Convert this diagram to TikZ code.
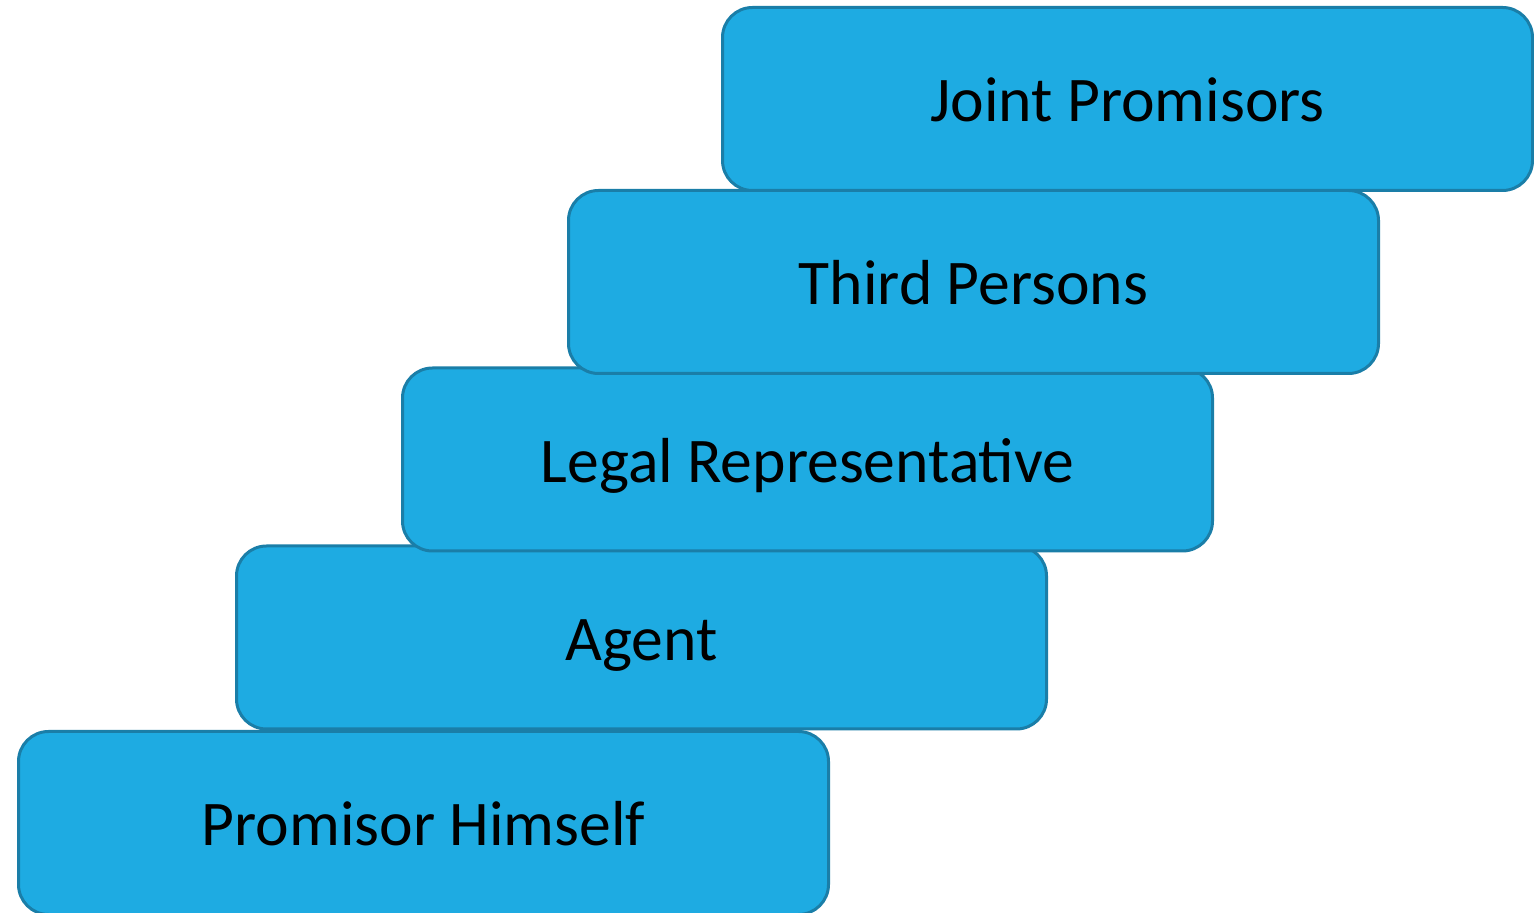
\documentclass[tikz,border=0pt]{standalone}
\usepackage{fontspec}
\setmainfont{Carlito}
\usetikzlibrary{positioning}
\definecolor{stepfill}{HTML}{1EABE2}
\definecolor{stepline}{HTML}{1A7EA8}

\begin{document}
\begin{tikzpicture}
    % Setup the style for the steps
        \tikzset{step style/.style={rectangle,
                                    rounded corners=0.6cm,
                                    minimum width=16.2cm,
                                    minimum height=3.66cm,
                                    text height=1.0cm,
                                    text depth=0.08cm,
                                    line width=0.06cm,
                                    draw=stepline,
                                    fill=stepfill,
                                    font=\fontsize{36.2}{43}\selectfont}}
        \useasboundingbox (0,0) rectangle (30.68,18.24);
        % Draw the steps, lowest first
        \node[step style] at (8.47,1.78)   (himself)  {Promisor Himself};
        \node[step style] at (12.83,5.49)  (agent)    {Agent};
        \node[step style] at (16.15,9.05)  (legal)    {Legal Representative};
        \node[step style] at (19.47,12.60) (third)    {Third Persons};
        \node[step style] at (22.55,16.26) (joint)    {Joint Promisors};
\end{tikzpicture}
\end{document}
